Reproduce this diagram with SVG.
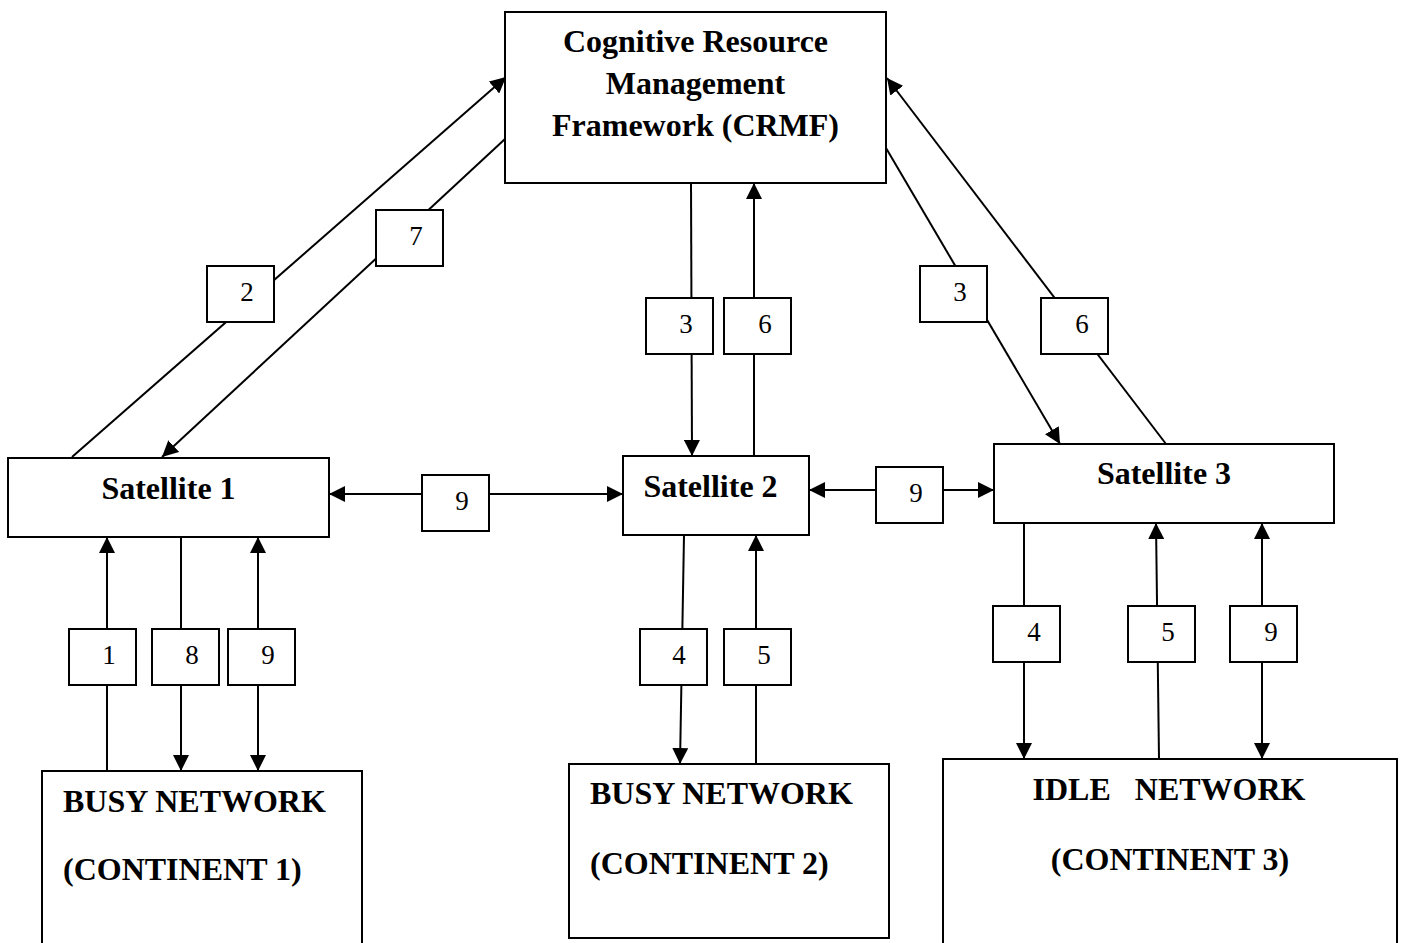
<svg xmlns="http://www.w3.org/2000/svg" width="1404" height="943" viewBox="0 0 1404 943">
<style>
.box{fill:#fff;stroke:#000;stroke-width:2}
.lbl{fill:#fff;stroke:#000;stroke-width:2}
.big{font-family:"Liberation Serif","Times New Roman",serif;font-weight:bold;font-size:32px;fill:#000;white-space:pre}
.num{font-family:"Liberation Serif","Times New Roman",serif;font-size:27px;fill:#000;text-anchor:middle}
.c{stroke:#000;stroke-width:2;fill:none}
.e{marker-end:url(#ah)}
.b{marker-start:url(#ah);marker-end:url(#ah)}
</style>
<defs>
<marker id="ah" markerUnits="userSpaceOnUse" markerWidth="16" markerHeight="16" refX="16" refY="8" orient="auto-start-reverse" viewBox="0 0 16 16">
<path d="M0,0 L16,8 L0,16 z" fill="#000"/>
</marker>
</defs>
<rect width="1404" height="943" fill="#fff"/>
<g id="connectors">
<line class="c e" x1="72" y1="457" x2="506" y2="77"/>
<line class="c e" x1="505" y1="139" x2="162" y2="457"/>
<line class="c e" x1="691" y1="183" x2="692" y2="456"/>
<line class="c e" x1="754" y1="456" x2="754" y2="183"/>
<line class="c e" x1="886" y1="148" x2="1060" y2="444"/>
<line class="c e" x1="1166" y1="444" x2="887" y2="78"/>
<line class="c b" x1="329" y1="494" x2="623" y2="494"/>
<line class="c b" x1="809" y1="490" x2="994" y2="490"/>
<line class="c e" x1="107" y1="771" x2="107" y2="537"/>
<line class="c e" x1="181" y1="537" x2="181" y2="771"/>
<line class="c b" x1="258" y1="537" x2="258" y2="771"/>
<line class="c e" x1="684" y1="535" x2="680" y2="764"/>
<line class="c e" x1="756" y1="764" x2="756" y2="535"/>
<line class="c e" x1="1024" y1="523" x2="1024" y2="759"/>
<line class="c e" x1="1159" y1="759" x2="1156" y2="523"/>
<line class="c b" x1="1262" y1="523" x2="1262" y2="759"/>
</g>
<g id="labels">
<g id="l2"><rect class="lbl" x="207" y="266" width="67" height="56"/><text class="num" x="247" y="301">2</text></g>
<g id="l7"><rect class="lbl" x="376" y="210" width="67" height="56"/><text class="num" x="416" y="245">7</text></g>
<g id="l3a"><rect class="lbl" x="646" y="298" width="67" height="56"/><text class="num" x="686" y="333">3</text></g>
<g id="l6a"><rect class="lbl" x="724" y="298" width="67" height="56"/><text class="num" x="765" y="333">6</text></g>
<g id="l3b"><rect class="lbl" x="920" y="266" width="67" height="56"/><text class="num" x="960" y="301">3</text></g>
<g id="l6b"><rect class="lbl" x="1041" y="298" width="67" height="56"/><text class="num" x="1082" y="333">6</text></g>
<g id="l9a"><rect class="lbl" x="422" y="475" width="67" height="56"/><text class="num" x="462" y="510">9</text></g>
<g id="l9b"><rect class="lbl" x="876" y="467" width="67" height="56"/><text class="num" x="916" y="502">9</text></g>
<g id="l1"><rect class="lbl" x="69" y="629" width="67" height="56"/><text class="num" x="109" y="664">1</text></g>
<g id="l8"><rect class="lbl" x="152" y="629" width="67" height="56"/><text class="num" x="192" y="664">8</text></g>
<g id="l9c"><rect class="lbl" x="228" y="629" width="67" height="56"/><text class="num" x="268" y="664">9</text></g>
<g id="l4a"><rect class="lbl" x="640" y="629" width="67" height="56"/><text class="num" x="679" y="664">4</text></g>
<g id="l5a"><rect class="lbl" x="724" y="629" width="67" height="56"/><text class="num" x="764" y="664">5</text></g>
<g id="l4b"><rect class="lbl" x="993" y="606" width="67" height="56"/><text class="num" x="1034" y="641">4</text></g>
<g id="l5b"><rect class="lbl" x="1128" y="606" width="67" height="56"/><text class="num" x="1168" y="641">5</text></g>
<g id="l9d"><rect class="lbl" x="1230" y="606" width="67" height="56"/><text class="num" x="1271" y="641">9</text></g>
</g>
<g id="crmf">
<rect class="box" x="505" y="12" width="381" height="171"/>
<text class="big" text-anchor="middle" x="695.5" y="52">Cognitive Resource</text>
<text class="big" text-anchor="middle" x="695.5" y="94">Management</text>
<text class="big" text-anchor="middle" x="695.5" y="136">Framework (CRMF)</text>
</g>
<g id="sat1">
<rect class="box" x="8" y="458" width="321" height="79"/>
<text class="big" text-anchor="middle" x="168.5" y="499">Satellite 1</text>
</g>
<g id="sat2">
<rect class="box" x="623" y="456" width="186" height="79"/>
<text class="big" text-anchor="middle" x="710.5" y="497">Satellite 2</text>
</g>
<g id="sat3">
<rect class="box" x="994" y="444" width="340" height="79"/>
<text class="big" text-anchor="middle" x="1164" y="484">Satellite 3</text>
</g>
<g id="net1">
<rect class="box" x="42" y="771" width="320" height="200"/>
<text class="big" x="63" y="812">BUSY NETWORK</text>
<text class="big" x="63" y="880">(CONTINENT 1)</text>
</g>
<g id="net2">
<rect class="box" x="569" y="764" width="320" height="174"/>
<text class="big" x="590" y="804">BUSY NETWORK</text>
<text class="big" x="590" y="874">(CONTINENT 2)</text>
</g>
<g id="net3">
<rect class="box" x="943" y="759" width="454" height="220"/>
<text class="big" text-anchor="middle" x="1169" y="800">IDLE   NETWORK</text>
<text class="big" text-anchor="middle" x="1170" y="870">(CONTINENT 3)</text>
</g>
</svg>
